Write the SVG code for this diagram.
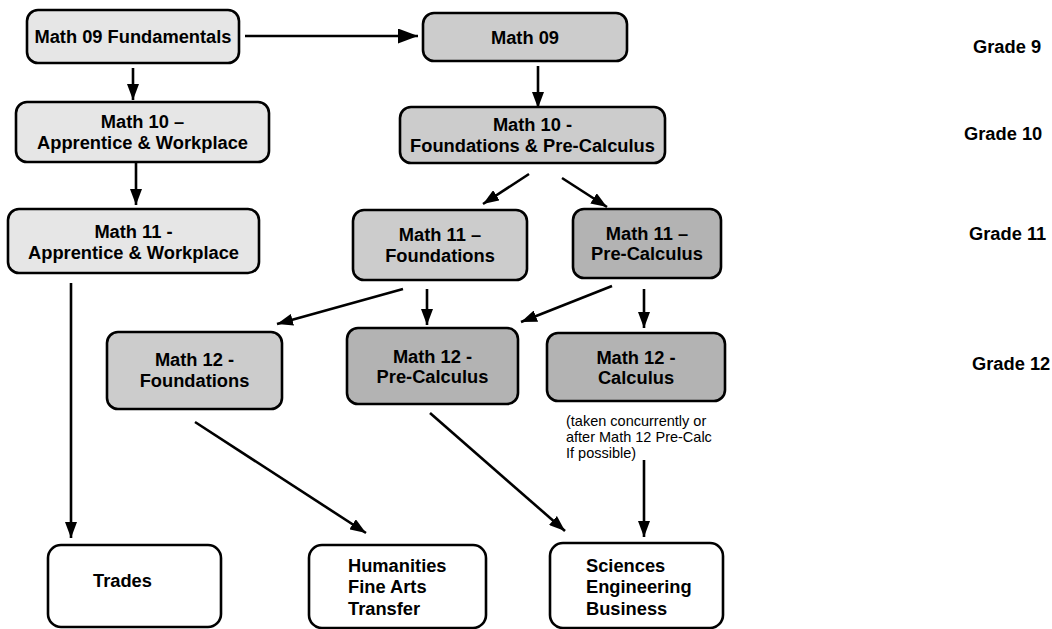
<svg xmlns="http://www.w3.org/2000/svg" width="1052" height="629" viewBox="0 0 1052 629">
<style>
.box{stroke:#000;stroke-width:2.6}
.l1{fill:#e6e6e6}
.l2{fill:#cccccc}
.l3{fill:#b3b3b3}
.w{fill:#ffffff}
text{font-family:"Liberation Sans",Arial,sans-serif;font-weight:bold;font-size:18.3px;fill:#000}
.c{text-anchor:middle}
.note{font-weight:normal;font-size:14.5px}
.conn line{stroke:#000;stroke-width:2.6;marker-end:url(#ah)}
</style>
<defs>
<marker id="ah" markerUnits="userSpaceOnUse" markerWidth="17" markerHeight="12" refX="16" refY="6" orient="auto">
<path d="M0,0 L16,6 L0,12 z" fill="#000"/>
</marker>
<marker id="ahb" markerUnits="userSpaceOnUse" markerWidth="21" markerHeight="15" refX="20" refY="7.5" orient="auto">
<path d="M0,0 L20,7.5 L0,15 z" fill="#000"/>
</marker>
</defs>
<rect width="1052" height="629" fill="#fff"/>
<g class="conn">
<line x1="245" y1="36" x2="418" y2="36" style="marker-end:url(#ahb)"/>
<line x1="133" y1="68" x2="133" y2="100"/>
<line x1="136" y1="163" x2="136" y2="205"/>
<line x1="71" y1="283" x2="71" y2="538"/>
<line x1="538" y1="66" x2="538" y2="108"/>
<line x1="529" y1="174" x2="483" y2="204"/>
<line x1="562" y1="178" x2="607" y2="207"/>
<line x1="403" y1="289" x2="277" y2="324"/>
<line x1="427" y1="289" x2="427" y2="325"/>
<line x1="612" y1="286" x2="521" y2="322"/>
<line x1="644" y1="289" x2="644" y2="328"/>
<line x1="195" y1="422" x2="366" y2="533"/>
<line x1="430" y1="413" x2="565" y2="531"/>
<line x1="644" y1="460" x2="644" y2="537"/>
</g>
<g id="math09fund"><rect class="box l1" x="27" y="10" width="212" height="53" rx="11"/><text class="c" x="133" y="43">Math 09 Fundamentals</text></g>
<g id="math10aw"><rect class="box l1" x="16" y="102" width="253" height="60" rx="11"/><text class="c" x="142.5" y="128">Math 10 –</text><text class="c" x="142.5" y="149">Apprentice &amp; Workplace</text></g>
<g id="math11aw"><rect class="box l1" x="8" y="209" width="251" height="64" rx="11"/><text class="c" x="133.5" y="238">Math 11 -</text><text class="c" x="133.5" y="259">Apprentice &amp; Workplace</text></g>
<g id="math09"><rect class="box l2" x="423" y="13" width="204" height="48" rx="11"/><text class="c" x="525" y="43.5">Math 09</text></g>
<g id="math10fpc"><rect class="box l2" x="400" y="107" width="265" height="56" rx="11"/><text class="c" x="532.5" y="131">Math 10 -</text><text class="c" x="532.5" y="152">Foundations &amp; Pre-Calculus</text></g>
<g id="math11f"><rect class="box l2" x="353" y="210" width="174" height="70" rx="11"/><text class="c" x="440" y="241">Math 11 –</text><text class="c" x="440" y="262">Foundations</text></g>
<g id="math11pc"><rect class="box l3" x="573" y="209" width="148" height="69" rx="11"/><text class="c" x="647" y="240">Math 11 –</text><text class="c" x="647" y="260">Pre-Calculus</text></g>
<g id="math12f"><rect class="box l2" x="107" y="332" width="175" height="77" rx="11"/><text class="c" x="194.5" y="366">Math 12 -</text><text class="c" x="194.5" y="387">Foundations</text></g>
<g id="math12pc"><rect class="box l3" x="347" y="328" width="171" height="76" rx="11"/><text class="c" x="432.5" y="363">Math 12 -</text><text class="c" x="432.5" y="383">Pre-Calculus</text></g>
<g id="math12calc"><rect class="box l3" x="547" y="333" width="178" height="68" rx="11"/><text class="c" x="636" y="364">Math 12 -</text><text class="c" x="636" y="384">Calculus</text></g>
<g id="note"><text class="note" x="566" y="426">(taken concurrently or</text><text class="note" x="566" y="442">after Math 12 Pre-Calc</text><text class="note" x="566" y="458">If possible)</text></g>
<g id="trades"><rect class="box w" x="48" y="545" width="173" height="82" rx="13"/><text x="93" y="587">Trades</text></g>
<g id="humanities"><rect class="box w" x="309" y="545" width="177" height="83" rx="13"/><text x="348" y="572">Humanities</text><text x="348" y="593">Fine Arts</text><text x="348" y="615">Transfer</text></g>
<g id="sciences"><rect class="box w" x="550" y="543" width="173" height="85" rx="13"/><text x="586" y="572">Sciences</text><text x="586" y="593">Engineering</text><text x="586" y="615">Business</text></g>
<g id="grades"><text x="973" y="53">Grade 9</text><text x="964" y="140">Grade 10</text><text x="969" y="240">Grade 11</text><text x="972" y="370">Grade 12</text></g>
</svg>
